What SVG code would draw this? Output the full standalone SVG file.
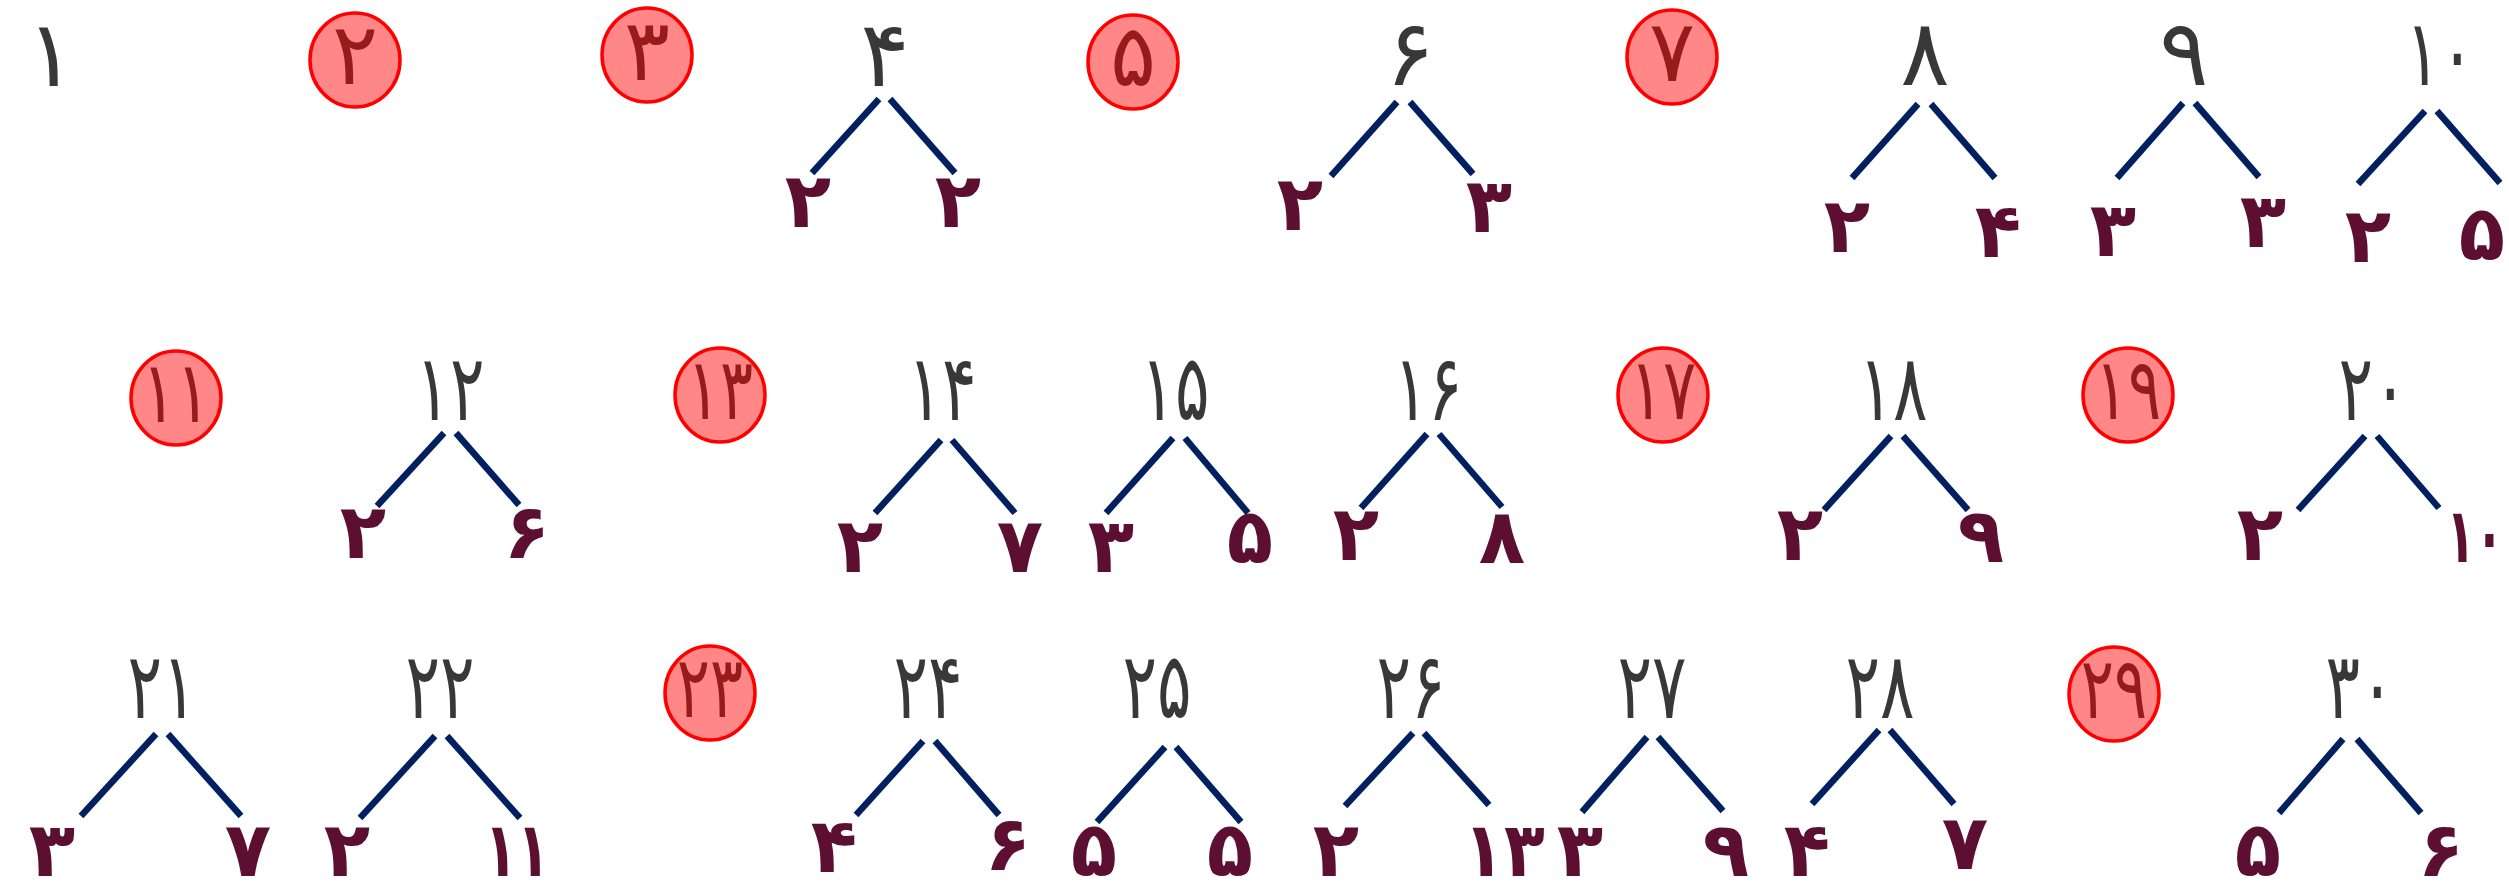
<svg xmlns="http://www.w3.org/2000/svg" width="2509" height="894" viewBox="0 0 2509 894">
<style>
.top{font-family:"DejaVu Sans",sans-serif;font-size:92px;fill:#383838;text-anchor:middle}
.bot{font-family:"DejaVu Sans",sans-serif;font-size:76px;font-weight:bold;fill:#5c0f30;text-anchor:middle}
.cn{font-family:"DejaVu Sans",sans-serif;font-size:86px;fill:#971b1b;text-anchor:middle}
.c{fill:#ff8787;stroke:#ff0000;stroke-width:3.5}
.ln{stroke:#002060;stroke-width:6.5;fill:none}
</style>
<rect width="2509" height="894" fill="#ffffff"/>
<g id="connectors" class="ln">
<line x1="879" y1="99" x2="812" y2="173"/><line x1="890" y1="99" x2="955" y2="173"/>
<line x1="1397" y1="102" x2="1331" y2="176"/><line x1="1410" y1="102" x2="1473" y2="174"/>
<line x1="1918" y1="104" x2="1852" y2="178"/><line x1="1931" y1="104" x2="1995" y2="178"/>
<line x1="2183" y1="103" x2="2117" y2="178"/><line x1="2195" y1="103" x2="2259" y2="177"/>
<line x1="2425" y1="111" x2="2358" y2="184"/><line x1="2437" y1="111" x2="2500" y2="183"/>
<line x1="444" y1="433" x2="377" y2="506"/><line x1="456" y1="433" x2="519" y2="505"/>
<line x1="941" y1="440" x2="875" y2="513"/><line x1="952" y1="440" x2="1015" y2="513"/>
<line x1="1173" y1="438" x2="1106" y2="513"/><line x1="1185" y1="438" x2="1248" y2="513"/>
<line x1="1427" y1="434" x2="1361" y2="508"/><line x1="1439" y1="434" x2="1502" y2="507"/>
<line x1="1891" y1="436" x2="1824" y2="510"/><line x1="1903" y1="436" x2="1968" y2="510"/>
<line x1="2365" y1="436" x2="2298" y2="510"/><line x1="2377" y1="436" x2="2439" y2="508"/>
<line x1="156" y1="734" x2="81" y2="816"/><line x1="168" y1="734" x2="241" y2="816"/>
<line x1="435" y1="736" x2="360" y2="818"/><line x1="447" y1="736" x2="520" y2="818"/>
<line x1="923" y1="741" x2="856" y2="815"/><line x1="935" y1="741" x2="999" y2="815"/>
<line x1="1165" y1="747" x2="1097" y2="822"/><line x1="1176" y1="747" x2="1241" y2="822"/>
<line x1="1413" y1="733" x2="1345" y2="806"/><line x1="1424" y1="733" x2="1489" y2="805"/>
<line x1="1647" y1="737" x2="1582" y2="812"/><line x1="1658" y1="737" x2="1723" y2="811"/>
<line x1="1879" y1="730" x2="1812" y2="804"/><line x1="1890" y1="730" x2="1954" y2="804"/>
<line x1="2343" y1="739" x2="2279" y2="813"/><line x1="2357" y1="739" x2="2421" y2="813"/>
</g>
<g id="n1"><text class="top" x="51" y="86">۱</text></g>
<g id="c2"><ellipse class="c" cx="355" cy="60" rx="45" ry="47"/><text class="cn" x="355" y="84">۲</text></g>
<g id="c3"><ellipse class="c" cx="647" cy="55" rx="45" ry="47"/><text class="cn" x="647" y="80">۳</text></g>
<g id="n4"><text class="top" x="885" y="86">۴</text></g>
<g id="c5"><ellipse class="c" cx="1133" cy="62" rx="45" ry="47"/><text class="cn" x="1133" y="86">۵</text></g>
<g id="n6"><text class="top" x="1410" y="85">۶</text></g>
<g id="c7"><ellipse class="c" cx="1672" cy="57" rx="45" ry="47"/><text class="cn" x="1672" y="81">۷</text></g>
<g id="n8"><text class="top" x="1925" y="85">۸</text></g>
<g id="n9"><text class="top" x="2184" y="85">۹</text></g>
<g id="n10"><text class="top" transform="translate(2440,85) scale(0.7,1)">۱۰</text></g>
<g id="c11"><ellipse class="c" cx="176" cy="398" rx="45" ry="47"/><text class="cn" transform="translate(176,422) scale(0.74,1)">۱۱</text></g>
<g id="n12"><text class="top" transform="translate(450,420) scale(0.7,1)">۱۲</text></g>
<g id="c13"><ellipse class="c" cx="720" cy="395" rx="45" ry="47"/><text class="cn" transform="translate(720,419) scale(0.72,1)">۱۳</text></g>
<g id="n14"><text class="top" transform="translate(942,420) scale(0.7,1)">۱۴</text></g>
<g id="n15"><text class="top" transform="translate(1175,420) scale(0.7,1)">۱۵</text></g>
<g id="n16"><text class="top" transform="translate(1428,420) scale(0.7,1)">۱۶</text></g>
<g id="c17"><ellipse class="c" cx="1663" cy="395" rx="45" ry="47"/><text class="cn" transform="translate(1663,419) scale(0.72,1)">۱۷</text></g>
<g id="n18"><text class="top" transform="translate(1893,420) scale(0.7,1)">۱۸</text></g>
<g id="c19"><ellipse class="c" cx="2128" cy="395" rx="45" ry="47"/><text class="cn" transform="translate(2128,419) scale(0.72,1)">۱۹</text></g>
<g id="n20"><text class="top" transform="translate(2373,420) scale(0.7,1)">۲۰</text></g>
<g id="n21"><text class="top" transform="translate(162,718) scale(0.7,1)">۲۱</text></g>
<g id="n22"><text class="top" transform="translate(440,718) scale(0.7,1)">۲۲</text></g>
<g id="c23"><ellipse class="c" cx="710" cy="693" rx="45" ry="47"/><text class="cn" transform="translate(710,717) scale(0.72,1)">۲۳</text></g>
<g id="n24"><text class="top" transform="translate(928,718) scale(0.7,1)">۲۴</text></g>
<g id="n25"><text class="top" transform="translate(1157,718) scale(0.7,1)">۲۵</text></g>
<g id="n26"><text class="top" transform="translate(1411,718) scale(0.7,1)">۲۶</text></g>
<g id="n27"><text class="top" transform="translate(1652,718) scale(0.7,1)">۲۷</text></g>
<g id="n28"><text class="top" transform="translate(1880,718) scale(0.7,1)">۲۸</text></g>
<g id="c29"><ellipse class="c" cx="2114" cy="694" rx="45" ry="47"/><text class="cn" transform="translate(2114,718) scale(0.72,1)">۲۹</text></g>
<g id="n30"><text class="top" transform="translate(2360,718) scale(0.7,1)">۳۰</text></g>
<g id="b4a"><text class="bot" x="808" y="227">۲</text></g>
<g id="b4b"><text class="bot" x="958" y="227">۲</text></g>
<g id="b6a"><text class="bot" x="1300" y="230">۲</text></g>
<g id="b6b"><text class="bot" x="1489" y="232">۳</text></g>
<g id="b8a"><text class="bot" x="1847" y="252">۲</text></g>
<g id="b8b"><text class="bot" x="1998" y="257">۴</text></g>
<g id="b9a"><text class="bot" x="2113" y="256">۳</text></g>
<g id="b9b"><text class="bot" x="2263" y="247">۳</text></g>
<g id="b10a"><text class="bot" x="2368" y="262">۲</text></g>
<g id="b10b"><text class="bot" x="2482" y="260">۵</text></g>
<g id="b12a"><text class="bot" x="363" y="558">۲</text></g>
<g id="b12b"><text class="bot" x="527" y="558">۶</text></g>
<g id="b14a"><text class="bot" x="860" y="572">۲</text></g>
<g id="b14b"><text class="bot" x="1020" y="572">۷</text></g>
<g id="b15a"><text class="bot" x="1111" y="572">۳</text></g>
<g id="b15b"><text class="bot" x="1250" y="563">۵</text></g>
<g id="b16a"><text class="bot" x="1356" y="560">۲</text></g>
<g id="b16b"><text class="bot" x="1502" y="563">۸</text></g>
<g id="b18a"><text class="bot" x="1800" y="560">۲</text></g>
<g id="b18b"><text class="bot" x="1981" y="562">۹</text></g>
<g id="b20a"><text class="bot" x="2260" y="560">۲</text></g>
<g id="b20b"><text class="bot" transform="translate(2475,562) scale(0.62,1)">۱۰</text></g>
<g id="b21a"><text class="bot" x="52" y="876">۳</text></g>
<g id="b21b"><text class="bot" x="248" y="876">۷</text></g>
<g id="b22a"><text class="bot" x="347" y="876">۲</text></g>
<g id="b22b"><text class="bot" transform="translate(517,876) scale(0.7,1)">۱۱</text></g>
<g id="b24a"><text class="bot" x="834" y="872">۴</text></g>
<g id="b24b"><text class="bot" x="1008" y="870">۶</text></g>
<g id="b25a"><text class="bot" x="1094" y="876">۵</text></g>
<g id="b25b"><text class="bot" x="1230" y="876">۵</text></g>
<g id="b26a"><text class="bot" x="1336" y="876">۲</text></g>
<g id="b26b"><text class="bot" transform="translate(1504,876) scale(0.88,1)">۱۳</text></g>
<g id="b27a"><text class="bot" x="1580" y="876">۳</text></g>
<g id="b27b"><text class="bot" x="1726" y="876">۹</text></g>
<g id="b28a"><text class="bot" x="1807" y="876">۴</text></g>
<g id="b28b"><text class="bot" x="1965" y="869">۷</text></g>
<g id="b30a"><text class="bot" x="2258" y="876">۵</text></g>
<g id="b30b"><text class="bot" x="2441" y="876">۶</text></g>
</svg>
